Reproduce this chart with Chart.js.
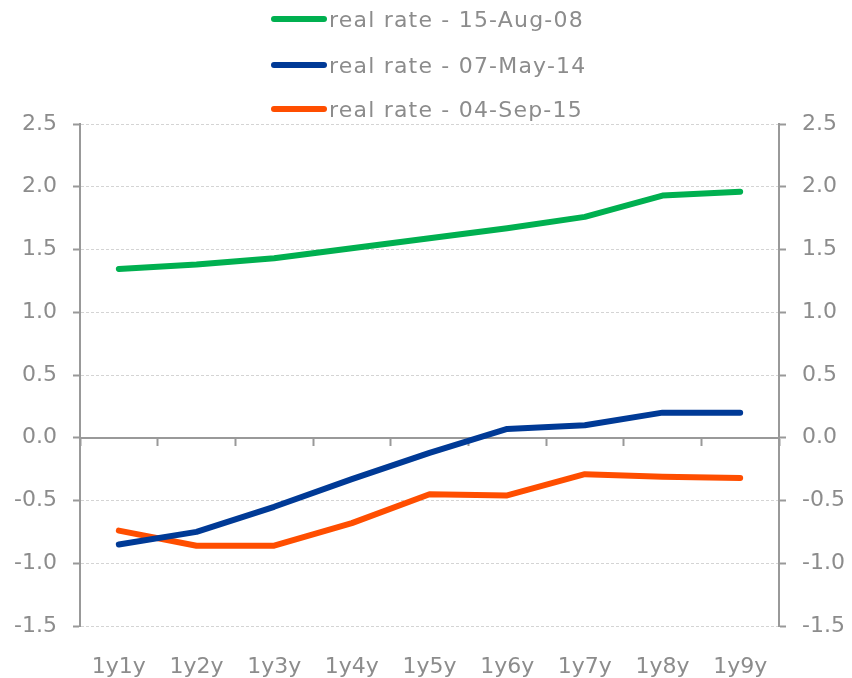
<!DOCTYPE html>
<html>
<head>
<meta charset="utf-8">
<script src="https://cdn.jsdelivr.net/npm/chart.js@4"></script>
<style>
  body { margin: 0; background: #fff; }
  #wrap { position: relative; width: 852px; height: 678px; }
  #legende { position: absolute; top: 0; left: 0; width: 852px; }
  .item { position: absolute; left: 271px; height: 30px; display: flex; align-items: center;
          font-family: "DejaVu Sans", sans-serif; font-size: 22px; letter-spacing: 1.2px; color: #8c8c8c; }
  .trait { width: 56px; height: 6px; border-radius: 3px; margin-right: 2px; }
</style>
</head>
<body>
<div id="wrap">
  <canvas id="graphique" width="852" height="678"></canvas>
  <div id="legende"></div>
</div>
<script>
// donnees
const categories = ["1y1y", "1y2y", "1y3y", "1y4y", "1y5y", "1y6y", "1y7y", "1y8y", "1y9y"];
const noms = ["real rate - 15-Aug-08", "real rate - 07-May-14", "real rate - 04-Sep-15"];
const taux2008 = [1.345, 1.38, 1.43, 1.51, 1.59, 1.67, 1.76, 1.93, 1.96];
const taux2014 = [-0.85, -0.75, -0.55, -0.33, -0.12, 0.07, 0.10, 0.20, 0.20];
const taux2015 = [-0.74, -0.86, -0.86, -0.68, -0.45, -0.46, -0.29, -0.31, -0.32];
const couleurs = ["#00b050", "#003a96", "#ff4e00"];

const gris = "#999999";
const police = { family: "DejaVu Sans", size: 22 };

function serie(i, valeurs) {
  return {
    label: noms[i],
    data: valeurs,
    borderColor: couleurs[i],
    backgroundColor: couleurs[i],
    borderWidth: 6,
    borderCapStyle: "round",
    borderJoinStyle: "round",
    pointRadius: 0,
    tension: 0,
  };
}

// axe y commun (gauche / droite)
function axeY(position, largeur, surZone) {
  return {
    position: position,
    min: -1.5,
    max: 2.5,
    ticks: {
      stepSize: 0.5,
      color: "#8c8c8c",
      font: police,
      padding: 16,
      callback: (v) => v.toFixed(1),
    },
    grid: {
      drawOnChartArea: surZone,
      color: (ctx) => (ctx.tick && ctx.tick.value === 0 ? "rgba(0,0,0,0)" : "#d4d4d4"),
      lineWidth: 1,
      tickLength: 7,
      tickColor: gris,
      tickWidth: 2,
    },
    border: { color: gris, width: 2, dash: [3, 2] },
    afterFit: (scale) => { scale.width = largeur; },
  };
}

const config = {
  type: "line",
  data: {
    labels: categories,
    datasets: [serie(0, taux2008), serie(1, taux2014), serie(2, taux2015)],
  },
  options: {
    responsive: false,
    animation: false,
    layout: { padding: { top: 124, left: 0, right: 0, bottom: 0 } },
    plugins: { legend: { display: false }, tooltip: { enabled: false } },
    scales: {
      x: {
        position: "bottom",
        offset: true,
        ticks: { color: "#8c8c8c", font: { family: "DejaVu Sans", size: 22 }, padding: 20 },
        grid: { display: false },
        border: { display: false },
        afterFit: (scale) => { scale.height = 52; },
      },
      // axe horizontal a zero avec graduations entre categories
      xZero: {
        type: "category",
        position: { y: 0 },
        offset: true,
        ticks: { display: false },
        grid: { offset: true, drawOnChartArea: false, tickLength: 7, tickColor: gris, tickWidth: 2 },
        border: { color: gris, width: 2 },
      },
      y: axeY("left", 80, true),
      yDroite: axeY("right", 73, false),
    },
  },
};

new Chart(document.querySelector("#graphique"), config);

// legende en html, une ligne par serie
const legende = document.querySelector("#legende");
const hauts = [4, 50, 94];
for (let i = 0; i < noms.length; i++) {
  const el = document.createElement("div");
  el.className = "item";
  el.style.top = hauts[i] + "px";
  el.innerHTML = `<span class="trait" style="background:${couleurs[i]}"></span>${noms[i]}`;
  legende.appendChild(el);
}
</script>
</body>
</html>
